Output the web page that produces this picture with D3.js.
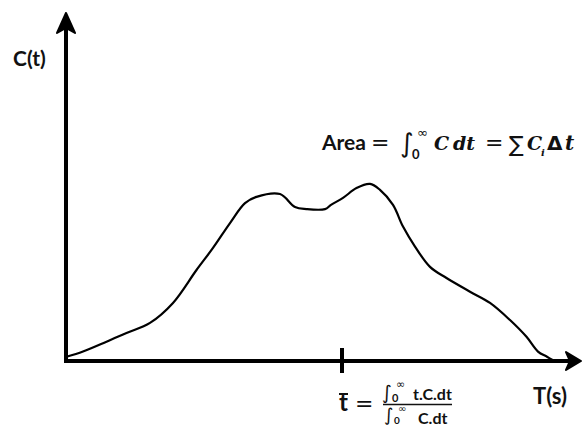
<!DOCTYPE html>
<html><head><meta charset="utf-8">
<script src="https://cdn.jsdelivr.net/npm/d3@7"></script>
<style>
html,body{margin:0;padding:0;background:#fff;}
svg{display:block;}
text{font-family:Lato,"Open Sans",sans-serif;font-weight:bold;fill:#111;}
.m{font-family:"DejaVu Serif",serif;font-style:italic;font-weight:bold;}
.s{font-family:"DejaVu Sans",sans-serif;font-weight:normal;}
.sb{font-family:"DejaVu Sans",sans-serif;font-weight:bold;}
</style></head>
<body>
<script>
// Time (s) and concentration C(t)
const times = [0.01,0.34,0.81,1.21,1.68,2.14,2.61,2.94,3.28,3.58,3.81,4.28,4.58,4.81,5.18,5.30,5.54,5.81,6.08,6.28,6.54,6.74,6.98,7.28,7.61,8.08,8.48,8.88,9.21,9.44,9.62,9.74];
const conc  = [0.12,0.27,0.55,0.80,1.09,1.66,2.60,3.23,3.94,4.51,4.69,4.77,4.40,4.34,4.34,4.46,4.66,4.94,5.06,4.89,4.46,3.84,3.27,2.69,2.37,1.98,1.66,1.17,0.69,0.27,0.12,0.02];
const tMean = 5.52;
const xDomain = [0, 10.3];
const yDomain = [0, 10];

const W = 582, H = 428;
const svg = d3.select("body").append("svg").attr("width", W).attr("height", H);

const x = d3.scaleLinear().domain(xDomain).range([66, 581]);
const y = d3.scaleLinear().domain(yDomain).range([361, 11]);

// axes
svg.append("line").attr("x1", x(0)).attr("x2", x(xDomain[1]) - 8).attr("y1", y(0)).attr("y2", y(0))
  .attr("stroke", "#000").attr("stroke-width", 4);
svg.append("line").attr("x1", x(0)).attr("x2", x(0)).attr("y1", y(0) + 2).attr("y2", y(yDomain[1]) + 10)
  .attr("stroke", "#000").attr("stroke-width", 4);

// arrowheads
const xt = x(xDomain[1]), yt = y(0);
svg.append("path").attr("d", `M${xt},${yt} L${xt-15},${yt-9} L${xt-11},${yt} L${xt-15},${yt+9} Z`)
  .attr("fill", "#000").attr("stroke", "#000").attr("stroke-width", 2).attr("stroke-linejoin", "round");
const ax = x(0), ay = y(yDomain[1]) + 2;
svg.append("path").attr("d", `M${ax},${ay} L${ax-9},${ay+20} L${ax},${ay+15} L${ax+9},${ay+20} Z`)
  .attr("fill", "#000").attr("stroke", "#000").attr("stroke-width", 2).attr("stroke-linejoin", "round");

// mean tick
svg.append("line").attr("x1", x(tMean)).attr("x2", x(tMean)).attr("y1", y(0) - 13).attr("y2", y(0) + 12)
  .attr("stroke", "#000").attr("stroke-width", 4);

// curve
const pts = times.map((t, i) => [t, conc[i]]);
svg.append("path").datum(pts)
  .attr("d", d3.line().x(d => x(d[0])).y(d => y(d[1])).curve(d3.curveCatmullRom))
  .attr("fill", "none").attr("stroke", "#000").attr("stroke-width", 2.2);

// labels
svg.append("text").attr("x", 13).attr("y", 66).attr("font-size", 21).text("C(t)");
svg.append("text").attr("x", 533).attr("y", 404).attr("font-size", 22).text("T(s)");

function t(xp, yp, size, str, cls) {
  return svg.append("text").attr("x", xp).attr("y", yp).attr("font-size", size).attr("class", cls || null).text(str);
}

// Area formula
t(322, 150, 21, "Area");
t(371, 150, 22, "=", "s");
t(400, 152, 26, "∫", "s");
t(412, 159, 13, "0");
t(417, 137, 13, "∞", "s");
t(434, 150, 19, "C", "m");
t(453, 150, 19, "dt", "m");
t(485, 150, 22, "=", "s");
t(509, 152, 22, "∑", "s");
t(527, 150, 19, "C", "m");
t(541, 156, 10, "i", "m");
t(547, 150, 20, "Δ", "sb");
t(565, 150, 20, "t", "m");

// mean formula
t(339, 411, 24, "t");
svg.append("line").attr("x1", 339).attr("x2", 348).attr("y1", 394).attr("y2", 394).attr("stroke", "#111").attr("stroke-width", 2);
t(355, 411, 22, "=", "s");
t(382, 399, 19, "∫", "s");
t(392, 402, 11, "0");
t(396, 388, 11, "∞", "s");
t(413, 400, 16, "t.C.dt");
svg.append("line").attr("x1", 383).attr("x2", 452).attr("y1", 404.5).attr("y2", 404.5).attr("stroke", "#111").attr("stroke-width", 1.3);
t(384, 421, 18, "∫", "s");
t(394, 424, 10, "0");
t(398, 412, 10, "∞", "s");
t(418, 424, 16, "C.dt");
</script>
</body></html>
